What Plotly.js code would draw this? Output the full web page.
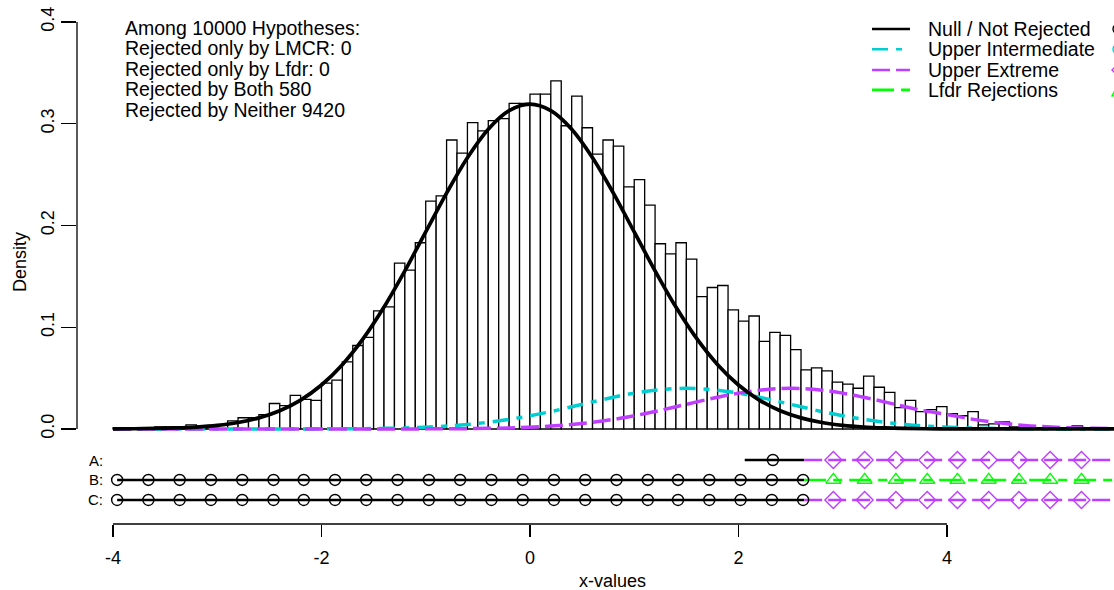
<!DOCTYPE html>
<html><head><meta charset="utf-8">
<script src="https://cdn.plot.ly/plotly-3.0.1.min.js"></script>
<style>html,body{margin:0;padding:0;background:#fff}#chart{width:1114px;height:590px}</style>
</head><body><div id="chart"></div>
<script>
// ---------- data ----------
const binStart = -4.0;
const binWidth = 0.1;
const densities = [
 0.001,0.000,0.001,0.001,0.002,0.002,0.002,0.004,0.003,0.003,
 0.004,0.008,0.011,0.011,0.014,0.025,0.023,0.033,0.029,0.028,
 0.045,0.048,0.066,0.082,0.090,0.116,0.120,0.163,0.156,0.183,
 0.224,0.229,0.284,0.271,0.301,0.293,0.303,0.305,0.320,0.320,
 0.329,0.329,0.342,0.298,0.327,0.296,0.270,0.284,0.278,0.238,
 0.245,0.220,0.182,0.172,0.183,0.167,0.130,0.139,0.141,0.117,
 0.106,0.111,0.086,0.095,0.092,0.078,0.058,0.060,0.057,0.046,
 0.044,0.040,0.052,0.041,0.036,0.021,0.028,0.017,0.019,0.022,
 0.015,0.013,0.017,0.004,0.005,0.007,0.002,0.002,0.001,0.001,
 0.001,0.001,0.003,0.001,0.000,0.000
];
const curveX = [-4.0,-3.8,-3.6,-3.4,-3.2,-3.0,-2.8,-2.6,-2.4,-2.2,
 -2.0,-1.8,-1.6,-1.4,-1.2,-1.0,-0.8,-0.6,-0.4,-0.2,
 0.0,0.2,0.4,0.6,0.8,1.0,1.2,1.4,1.6,1.8,
 2.0,2.2,2.4,2.6,2.8,3.0,3.2,3.4,3.6,3.8,
 4.0,4.2,4.4,4.6,4.8,5.0,5.2,5.4,5.6,5.8];
const nullCurve = [0.0001,0.0002,0.0005,0.0010,0.0019,0.0035,0.0063,0.0109,0.0179,0.0284,
 0.0432,0.0632,0.0887,0.1198,0.1554,0.1936,0.2318,0.2666,0.2946,0.3128,
 0.3192,0.3128,0.2946,0.2666,0.2318,0.1936,0.1554,0.1198,0.0887,0.0632,
 0.0432,0.0284,0.0179,0.0109,0.0063,0.0035,0.0019,0.0010,0.0005,0.0002,
 0.0001,0,0,0,0,0,0,0,0,0];
const upperIntermediate = [0,0,0,0,0,0,0,0,0,0,
 0.0001,0.0002,0.0003,0.0006,0.0010,0.0018,0.0028,0.0044,0.0066,0.0094,
 0.0130,0.0171,0.0218,0.0266,0.0312,0.0352,0.0381,0.0397,0.0397,0.0381,
 0.0352,0.0312,0.0266,0.0218,0.0171,0.0130,0.0094,0.0066,0.0044,0.0028,
 0.0018,0.0010,0.0006,0.0003,0.0002,0.0001,0,0,0,0];
const upperExtreme = [0,0,0,0,0,0,0,0,0,0,
 0,0,0,0,0,0.0001,0.0002,0.0003,0.0006,0.0010,
 0.0018,0.0028,0.0044,0.0066,0.0094,0.0130,0.0171,0.0218,0.0266,0.0312,
 0.0352,0.0381,0.0397,0.0397,0.0381,0.0352,0.0312,0.0266,0.0218,0.0175,
 0.0142,0.0104,0.0072,0.0048,0.0030,0.0019,0.0011,0.0006,0.0003,0.0002];

// strip rows (A, B, C)
const rowLabels = ["A:", "B:", "C:"];
const rowY = [-0.0305, -0.0501, -0.0698];
const rejectThreshold = 2.63;
const stripEnd = 5.9;
const rowAStart = 2.06;
const fullStart = -3.96;
const notRejMarksBC = [-3.96,-3.66,-3.36,-3.06,-2.76,-2.46,-2.17,-1.87,-1.57,-1.27,-0.97,-0.67,-0.37,-0.07,0.23,0.53,0.83,1.13,1.42,1.72,2.02,2.32,2.62];
const notRejMarksA = [2.33];
const rejMarks = [2.91,3.21,3.51,3.81,4.10,4.40,4.69,4.99,5.29];

const summaryLines = ["Among 10000 Hypotheses:", "Rejected only by LMCR: 0", "Rejected only by Lfdr: 0", "Rejected by Both 580", "Rejected by Neither 9420"];
const legendLabels = ["Null / Not Rejected", "Upper Intermediate", "Upper Extreme", "Lfdr Rejections"];
const xTicks = [-4, -2, 0, 2, 4];
const yTicks = [0, 0.1, 0.2, 0.3, 0.4];

// ---------- styles ----------
const BLACK = "#000000", CYAN = "#00CED1", PURPLE = "#BF3EFF", GREEN = "#00FF00";
const DASH_CYAN = "16px,8px,6px,8px";
const DASH_PURPLE = "18px,6px";
const DASH_GREEN = "22px,7px,9px,7px";
const FONT = "Liberation Sans, Arial, sans-serif";

const binCenters = densities.map((_, i) => +(binStart + binWidth * (i + 0.5)).toFixed(3));

const traces = [];
traces.push({type: "bar", x: binCenters, y: densities, width: binWidth,
  marker: {color: "#ffffff", line: {color: BLACK, width: 1.3}}, hoverinfo: "skip"});
traces.push({type: "scatter", mode: "lines", x: curveX, y: upperIntermediate,
  line: {color: CYAN, width: 3.5, dash: DASH_CYAN, shape: "spline"}});
traces.push({type: "scatter", mode: "lines", x: curveX, y: upperExtreme,
  line: {color: PURPLE, width: 3.5, dash: DASH_PURPLE, shape: "spline"}});
traces.push({type: "scatter", mode: "lines", x: curveX, y: nullCurve,
  line: {color: BLACK, width: 3.7, shape: "spline"}});

// strip lines
const rowStarts = [rowAStart, fullStart, fullStart];
const rowRejColor = [PURPLE, GREEN, PURPLE];
const rowRejDash = [DASH_PURPLE, DASH_GREEN, DASH_PURPLE];
const rowRejSymbol = ["diamond-open", "triangle-up-open", "diamond-open"];
const rowNotRejMarks = [notRejMarksA, notRejMarksBC, notRejMarksBC];
for (let r = 0; r < 3; r++) {
  traces.push({type: "scatter", mode: "lines", x: [rowStarts[r], rejectThreshold], y: [rowY[r], rowY[r]],
    line: {color: BLACK, width: 2.6}});
  traces.push({type: "scatter", mode: "lines", x: [rejectThreshold, stripEnd], y: [rowY[r], rowY[r]],
    line: {color: rowRejColor[r], width: 2.6, dash: rowRejDash[r]}});
  traces.push({type: "scatter", mode: "markers", x: rowNotRejMarks[r], y: rowNotRejMarks[r].map(() => rowY[r]),
    marker: {symbol: "circle-open", size: 11, color: BLACK, line: {width: 1.4, color: BLACK}}});
  traces.push({type: "scatter", mode: "markers", x: rejMarks, y: rejMarks.map(() => rowY[r]),
    marker: {symbol: rowRejSymbol[r], size: 13, color: rowRejColor[r], line: {width: 1.4, color: rowRejColor[r]}}});
}

const annotations = [];
const summaryY = [0.3941, 0.3740, 0.3538, 0.3337, 0.3135];
summaryLines.forEach((t, i) => annotations.push({xref: "x", yref: "y", x: -3.905, y: summaryY[i],
  xanchor: "left", yanchor: "middle", showarrow: false, text: t, font: {family: FONT, size: 19.5, color: BLACK}}));
const legendY = [0.3931, 0.3732, 0.3528, 0.3332];
legendLabels.forEach((t, i) => annotations.push({xref: "x", yref: "y", x: 3.795, y: legendY[i],
  xanchor: "left", yanchor: "middle", showarrow: false, text: t, font: {family: FONT, size: 19.5, color: BLACK}}));
const legendColors = [BLACK, CYAN, PURPLE, GREEN];
const legendDashes = ["solid", DASH_CYAN, DASH_PURPLE, DASH_GREEN];
rowLabels.forEach((t, i) => annotations.push({xref: "paper", yref: "y", x: 0.027, y: rowY[i],
  xanchor: "right", yanchor: "middle", showarrow: false, text: t, font: {family: FONT, size: 15, color: BLACK}}));
annotations.push({xref: "paper", yref: "y", x: -0.055, y: 0.164, textangle: -90, showarrow: false,
  xanchor: "center", yanchor: "middle", text: "Density", font: {family: FONT, size: 18, color: BLACK}});
annotations.push({xref: "x", yref: "paper", x: 0.796, y: -0.109, showarrow: false, height: 16, borderpad: 0,
  xanchor: "center", yanchor: "middle", text: "x-values", font: {family: FONT, size: 18, color: BLACK}});

const shapes = [];
shapes.push({type: "line", layer: "below", xref: "x", yref: "y", x0: binStart, x1: 6.0, y0: 0, y1: 0, line: {color: BLACK, width: 1.3}});
shapes.push({type: "line", xref: "x", yref: "paper", x0: xTicks[0], x1: xTicks[xTicks.length-1], y0: 0, y1: 0, line: {color: BLACK, width: 1.3}});
shapes.push({type: "line", xref: "paper", yref: "y", x0: 0, x1: 0, y0: yTicks[0], y1: yTicks[yTicks.length-1], line: {color: BLACK, width: 1.3}});
legendY.forEach((y, i) => shapes.push({type: "line", xref: "x", yref: "y", x0: 3.281, x1: 3.645, y0: y, y1: y,
  line: {color: legendColors[i], width: 2.6, dash: legendDashes[i]}}));
// second legend column (point symbols), cut off by the right edge as in the reference
const legendSymbolPaths = [
  null,
  null,
  "M -2 0 L 5 7 L 12 0 L 5 -7 Z",
  "M -2 -6 L 5 7 L 12 -6 Z"
];
legendY.forEach((y, i) => {
  const common = {xref: "paper", yref: "y", xsizemode: "pixel", ysizemode: "pixel", xanchor: 1.0, yanchor: y,
    line: {color: legendColors[i], width: 1.4}, fillcolor: "rgba(0,0,0,0)"};
  if (legendSymbolPaths[i]) shapes.push(Object.assign({type: "path", path: legendSymbolPaths[i]}, common));
  else shapes.push(Object.assign({type: "circle", x0: -1, x1: 10, y0: -5, y1: 5}, common));
});

const layout = {
  width: 1114, height: 590,
  margin: {l: 77, r: 0, t: 2, b: 66},
  paper_bgcolor: "#ffffff", plot_bgcolor: "#ffffff",
  showlegend: false, bargap: 0,
  font: {family: FONT, size: 18, color: BLACK},
  xaxis: {range: [-4.345, 5.602], showgrid: false, zeroline: false, showline: false,
    tickmode: "array", tickvals: xTicks, ticktext: xTicks.map(String),
    ticks: "outside", ticklen: 12, tickwidth: 1.3, tickcolor: BLACK, ticklabelstandoff: 5,
    tickfont: {family: FONT, size: 18, color: BLACK}},
  yaxis: {range: [-0.0934, 0.4196], showgrid: false, zeroline: false, showline: false,
    tickmode: "array", tickvals: yTicks, ticktext: yTicks.map(v => v.toFixed(1)),
    ticks: "outside", ticklen: 15, tickwidth: 1.3, tickcolor: BLACK, tickangle: -90,
    tickfont: {family: FONT, size: 18, color: BLACK}},
  annotations: annotations,
  shapes: shapes
};
Plotly.newPlot("chart", traces, layout, {displayModeBar: false, staticPlot: true});
</script></body></html>
